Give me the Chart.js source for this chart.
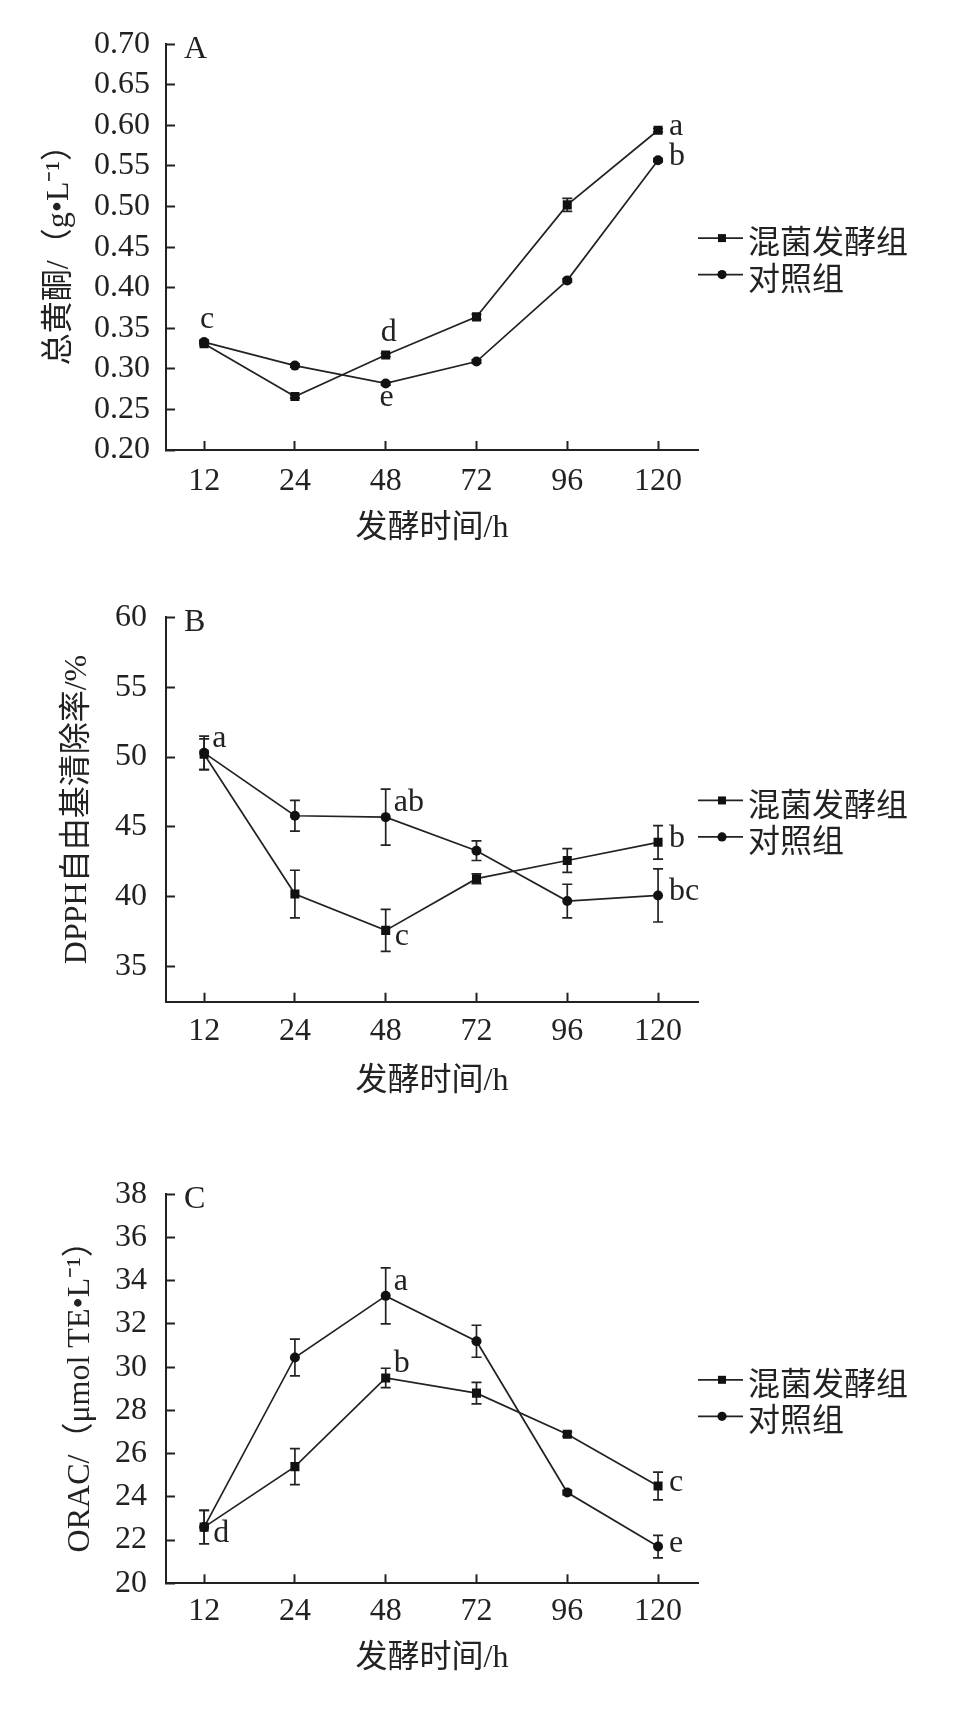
<!DOCTYPE html>
<html>
<head>
<meta charset="utf-8">
<title>混菌发酵组与对照组</title>
<script src="https://cdn.jsdelivr.net/npm/chart.js@4.4.1/dist/chart.umd.min.js"></script>
<style>
  html, body { margin: 0; padding: 0; background: #fff; }
  #wrap { position: relative; width: 961px; height: 1717px; overflow: hidden; }
  canvas { position: absolute; left: 0; }
</style>
</head>
<body>
<div id="wrap">
  <canvas id="chartA" width="961" height="570" style="top:0px"></canvas>
  <canvas id="chartB" width="961" height="570" style="top:570px"></canvas>
  <canvas id="chartC" width="961" height="577" style="top:1140px"></canvas>
</div>
<script>
// ---- data ----
const hours = ['12', '24', '48', '72', '96', '120'];
const seriesNames = ['混菌发酵组', '对照组'];

// A: total flavonoids (g/L)
const flavMixed = [0.331, 0.266, 0.317, 0.364, 0.502, 0.594];
const flavCtrl = [0.333, 0.304, 0.282, 0.309, 0.409, 0.557];
const flavMixedErr = [0.002, 0.002, 0.002, 0.003, 0.008, 0.002];
const flavCtrlErr = [0.002, 0.002, 0.002, 0.002, 0.002, 0.002];
const flavMixedSig = ['', '', 'd', '', '', 'a'];
const flavCtrlSig = ['c', '', 'e', '', '', 'b'];
const flavTicks = [0.20, 0.25, 0.30, 0.35, 0.40, 0.45, 0.50, 0.55, 0.60, 0.65, 0.70];

// B: DPPH scavenging (%)
const dpphMixed = [50.2, 40.2, 37.6, 41.3, 42.6, 43.9];
const dpphCtrl = [50.3, 45.8, 45.7, 43.3, 39.7, 40.1];
const dpphMixedErr = [1.1, 1.7, 1.5, 0.35, 0.85, 1.2];
const dpphCtrlErr = [1.2, 1.1, 2.0, 0.7, 1.2, 1.9];
const dpphMixedSig = ['', '', 'c', '', '', 'b'];
const dpphCtrlSig = ['a', '', 'ab', '', '', 'bc'];
const dpphTicks = [35, 40, 45, 50, 55, 60];

// C: ORAC (umol TE/L)
const oracMixed = [22.6, 25.4, 29.5, 28.8, 26.9, 24.5];
const oracCtrl = [22.6, 30.45, 33.3, 31.2, 24.2, 21.7];
const oracMixedErr = [0.77, 0.83, 0.45, 0.5, 0.1, 0.64];
const oracCtrlErr = [0.77, 0.85, 1.3, 0.74, 0.1, 0.52];
const oracMixedSig = ['d', '', 'b', '', '', 'c'];
const oracCtrlSig = ['', '', 'a', '', '', 'e'];
const oracTicks = [20, 22, 24, 26, 28, 30, 32, 34, 36, 38];

// ---- styling ----
const INK = '#222';
const serif = '"Liberation Serif", "Noto Sans CJK SC", serif';
const font32 = { family: serif, size: 32 };

// where each significance letter sits relative to its point
const sigOffsets = {
  right: [11, 5, 'left'],
  upRight: [8, -6, 'left'],
  downRight: [9, 15, 'left'],
  above: [3, -14, 'center'],
  below: [1, 23, 'center']
};

const errorBars = {
  id: 'errorBars',
  beforeDatasetsDraw(chart) {
    const { ctx } = chart;
    const yScale = chart.scales.y;
    ctx.save();
    ctx.strokeStyle = INK;
    ctx.lineWidth = 1.7;
    chart.data.datasets.forEach((ds, di) => {
      const meta = chart.getDatasetMeta(di);
      (ds.errors || []).forEach((e, i) => {
        if (!e) return;
        const x = meta.data[i].x;
        const v = ds.data[i].y;
        const top = yScale.getPixelForValue(v + e);
        const bot = yScale.getPixelForValue(v - e);
        ctx.beginPath();
        ctx.moveTo(x, top); ctx.lineTo(x, bot);
        ctx.moveTo(x - 5, top); ctx.lineTo(x + 5, top);
        ctx.moveTo(x - 5, bot); ctx.lineTo(x + 5, bot);
        ctx.stroke();
      });
    });
    ctx.restore();
  }
};

const sigLetters = {
  id: 'sigLetters',
  afterDatasetsDraw(chart) {
    const { ctx } = chart;
    ctx.save();
    ctx.fillStyle = INK;
    ctx.font = '32px ' + serif;
    ctx.textBaseline = 'alphabetic';
    chart.data.datasets.forEach((ds, di) => {
      const meta = chart.getDatasetMeta(di);
      (ds.sig || []).forEach((s, i) => {
        if (!s) return;
        const [dx, dy, align] = sigOffsets[ds.sigPlace[i]];
        ctx.textAlign = align;
        ctx.fillText(s, meta.data[i].x + dx, meta.data[i].y + dy);
      });
    });
    ctx.restore();
  }
};

// panel letter and the line+marker legend to the right of the plot
const panelDecor = {
  id: 'panelDecor',
  afterDraw(chart, args, opts) {
    const { ctx, chartArea } = chart;
    ctx.save();
    ctx.fillStyle = INK;
    ctx.font = '32px ' + serif;
    ctx.textBaseline = 'middle';
    ctx.textAlign = 'left';
    ctx.fillText(opts.letter, chartArea.left + 18, chartArea.top + 5);

    const midY = (chartArea.top + chartArea.bottom) / 2;
    const x0 = chartArea.right;
    chart.data.datasets.forEach((ds, di) => {
      const y = midY - 9 + di * 36.5;
      ctx.strokeStyle = INK;
      ctx.lineWidth = 1.7;
      ctx.beginPath();
      ctx.moveTo(x0, y); ctx.lineTo(x0 + 45, y);
      ctx.stroke();
      ctx.fillStyle = '#111';
      ctx.beginPath();
      if (ds.pointStyle === 'rect') ctx.rect(x0 + 20, y - 4, 8, 8);
      else ctx.arc(x0 + 24, y, 4.6, 0, Math.PI * 2);
      ctx.fill();
      ctx.fillStyle = INK;
      ctx.font = '32px "Noto Sans CJK SC", sans-serif';
      ctx.fillText(ds.label, x0 + 50, y + 3);
    });
    ctx.restore();
  }
};

function series(label, values, errors, sig, place, style) {
  return {
    label,
    data: values.map((v, i) => ({ x: i, y: v })),
    errors, sig, sigPlace: place,
    borderColor: INK,
    backgroundColor: '#111',
    borderWidth: 1.7,
    pointStyle: style,
    pointRadius: style === 'rect' ? 6.4 : 5,
    pointBackgroundColor: '#111',
    pointBorderWidth: 0,
    tension: 0
  };
}

function makePanel(id, p) {
  return new Chart(document.getElementById(id), {
    type: 'line',
    data: {
      datasets: [
        series(seriesNames[0], p.mixed, p.mixedErr, p.mixedSig, p.mixedPlace, 'rect'),
        series(seriesNames[1], p.ctrl, p.ctrlErr, p.ctrlSig, p.ctrlPlace, 'circle')
      ]
    },
    options: {
      responsive: false,
      animation: false,
      events: [],
      layout: { padding: { top: p.plotTop, right: 263, bottom: 0, left: 0 } },
      plugins: {
        legend: { display: false },
        tooltip: { enabled: false },
        panelDecor: { letter: p.letter }
      },
      scales: {
        x: {
          type: 'linear',
          bounds: 'data',
          min: -0.42,
          max: 5.44,
          afterBuildTicks: s => { s.ticks = hours.map((h, i) => ({ value: i })); },
          afterFit: s => { s.height = p.xAxisH; },
          ticks: {
            callback: v => hours[v],
            autoSkip: false,
            maxRotation: 0,
            padding: p.xTickPad,
            font: font32,
            color: INK
          },
          grid: { drawOnChartArea: false, tickLength: -9, tickWidth: 2, color: INK },
          border: { color: INK, width: 2 },
          title: {
            display: true,
            text: '发酵时间/h',
            font: font32,
            color: INK,
            padding: { top: 0, bottom: p.xTitlePad }
          }
        },
        y: {
          bounds: 'data',
          min: p.yMin,
          max: p.yMax,
          afterBuildTicks: s => { s.ticks = p.yTicks.map(v => ({ value: v })); },
          afterFit: s => { s.width = 166; },
          ticks: {
            callback: p.yFormat,
            autoSkip: false,
            padding: p.yTickPad,
            font: font32,
            color: INK
          },
          grid: { drawOnChartArea: false, tickLength: -9, tickWidth: 2, color: INK },
          border: { color: INK, width: 2 },
          title: {
            display: true,
            text: p.yTitle,
            font: font32,
            color: INK,
            padding: { top: p.yTitlePad, bottom: 0 }
          }
        }
      }
    },
    plugins: [errorBars, sigLetters, panelDecor]
  });
}

makePanel('chartA', {
  letter: 'A',
  mixed: flavMixed, mixedErr: flavMixedErr, mixedSig: flavMixedSig,
  mixedPlace: ['', '', 'above', '', '', 'right'],
  ctrl: flavCtrl, ctrlErr: flavCtrlErr, ctrlSig: flavCtrlSig,
  ctrlPlace: ['above', '', 'below', '', '', 'right'],
  yMin: 0.2, yMax: 0.7, yTicks: flavTicks,
  yFormat: v => v.toFixed(2),
  yTitle: '总黄酮/（g•L⁻¹）',
  plotTop: 34, xAxisH: 120,
  xTickPad: 21.5, xTitlePad: 21.8, yTickPad: 25, yTitlePad: 40
});

makePanel('chartB', {
  letter: 'B',
  mixed: dpphMixed, mixedErr: dpphMixedErr, mixedSig: dpphMixedSig,
  mixedPlace: ['', '', 'downRight', '', '', 'right'],
  ctrl: dpphCtrl, ctrlErr: dpphCtrlErr, ctrlSig: dpphCtrlSig,
  ctrlPlace: ['upRight', '', 'upRight', '', '', 'right'],
  yMin: 32.5, yMax: 60, yTicks: dpphTicks,
  yFormat: v => String(v),
  yTitle: 'DPPH自由基清除率/%',
  plotTop: 44.3, xAxisH: 138.3,
  xTickPad: 19.8, xTitlePad: 39.1, yTickPad: 28, yTitlePad: 58
});

makePanel('chartC', {
  letter: 'C',
  mixed: oracMixed, mixedErr: oracMixedErr, mixedSig: oracMixedSig,
  mixedPlace: ['downRight', '', 'upRight', '', '', 'right'],
  ctrl: oracCtrl, ctrlErr: oracCtrlErr, ctrlSig: oracCtrlSig,
  ctrlPlace: ['', '', 'upRight', '', '', 'right'],
  yMin: 20, yMax: 38, yTicks: oracTicks,
  yFormat: v => String(v),
  yTitle: 'ORAC/（μmol TE•L⁻¹）',
  plotTop: 54.3, xAxisH: 133.7,
  xTickPad: 18.2, xTitlePad: 38.8, yTickPad: 28, yTitlePad: 61
});
</script>
</body>
</html>
